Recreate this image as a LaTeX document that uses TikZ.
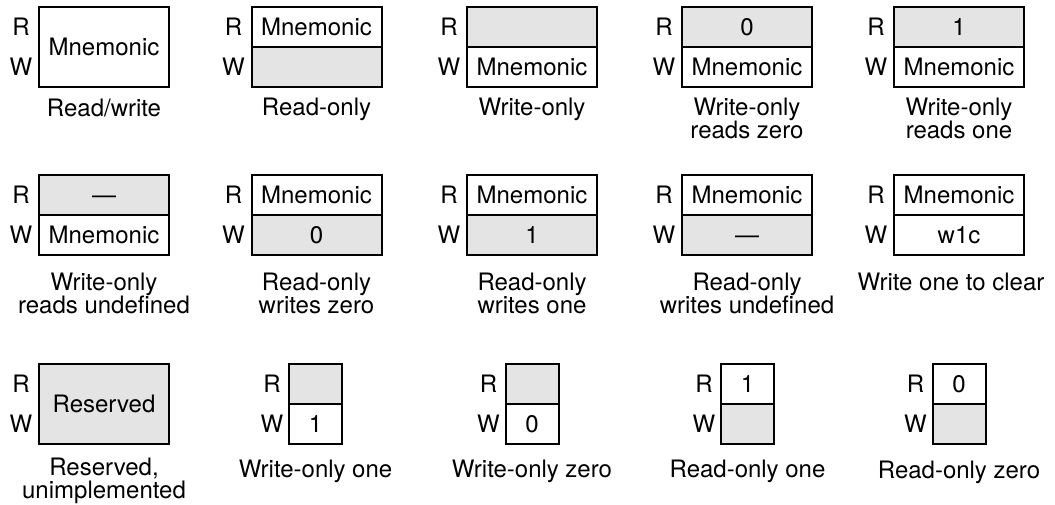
\documentclass[tikz,border=0pt]{standalone}
\usepackage{fontspec}
\setmainfont{TeX Gyre Heros}
\usetikzlibrary{positioning}
\definecolor{shade}{gray}{0.894}

\begin{document}
\begin{tikzpicture}[
            x = 1pt, y = -1pt,
            every node/.style = {inner sep = 0pt, outer sep = 0pt, font = \fontsize{24}{23}\selectfont},
            field/.style = {draw, line width = 2pt, minimum width = 130pt, minimum height = 40pt,
                            text height = 17pt, text depth = 0pt},
            tall/.style = {field, minimum height = 80pt},
            narrow/.style = {field, minimum width = 53pt},
            blank/.style = {fill = shade},
            caption/.style = {align = center}
            ]
            \useasboundingbox (0,0) rectangle (1055,504);

            \node[tall] (rw) at (104,47) {Mnemonic};
            \node (rw-rl) at ([shift={(-18pt,20pt)}]rw.west) {R};
            \node (rw-wl) at ([shift={(-18pt,-20pt)}]rw.west) {W};
            \node[caption, below = 12pt of rw] (rw-cap) {Read/write};

            \node[field] (ro-r) at (316.5,27) {Mnemonic};
            \node[field, blank, below = 0pt of ro-r] (ro-w) {};
            \node (ro-rl) at ([xshift=-18pt]ro-r.west) {R};
            \node (ro-wl) at ([xshift=-18pt]ro-w.west) {W};
            \node[caption, below = 11pt of ro-w] (ro-cap) {Read-only};

            \node[field, blank] (wo-r) at (532,27) {};
            \node[field, below = 0pt of wo-r] (wo-w) {Mnemonic};
            \node (wo-rl) at ([xshift=-18pt]wo-r.west) {R};
            \node (wo-wl) at ([xshift=-18pt]wo-w.west) {W};
            \node[caption, below = 11pt of wo-w] (wo-cap) {Write-only};

            \node[field, blank] (wrz-r) at (747,27) {0};
            \node[field, below = 0pt of wrz-r] (wrz-w) {Mnemonic};
            \node (wrz-rl) at ([xshift=-18pt]wrz-r.west) {R};
            \node (wrz-wl) at ([xshift=-18pt]wrz-w.west) {W};
            \node[caption, below = 11pt of wrz-w] (wrz-cap) {Write-only\\reads zero};

            \node[field, blank] (wro-r) at (959,27) {1};
            \node[field, below = 0pt of wro-r] (wro-w) {Mnemonic};
            \node (wro-rl) at ([xshift=-18pt]wro-r.west) {R};
            \node (wro-wl) at ([xshift=-18pt]wro-w.west) {W};
            \node[caption, below = 11pt of wro-w] (wro-cap) {Write-only\\reads one};

            \node[field, blank] (wru-r) at (104,195) {—};
            \node[field, below = 0pt of wru-r] (wru-w) {Mnemonic};
            \node (wru-rl) at ([xshift=-18pt]wru-r.west) {R};
            \node (wru-wl) at ([xshift=-18pt]wru-w.west) {W};
            \node[caption, below = 18pt of wru-w] (wru-cap) {Write-only\\reads undefined};

            \node[field] (rwz-r) at (316.5,195) {Mnemonic};
            \node[field, blank, below = 0pt of rwz-r] (rwz-w) {0};
            \node (rwz-rl) at ([xshift=-18pt]rwz-r.west) {R};
            \node (rwz-wl) at ([xshift=-18pt]rwz-w.west) {W};
            \node[caption, below = 18pt of rwz-w] (rwz-cap) {Read-only\\writes zero};

            \node[field] (rwo-r) at (532,195) {Mnemonic};
            \node[field, blank, below = 0pt of rwo-r] (rwo-w) {1};
            \node (rwo-rl) at ([xshift=-18pt]rwo-r.west) {R};
            \node (rwo-wl) at ([xshift=-18pt]rwo-w.west) {W};
            \node[caption, below = 18pt of rwo-w] (rwo-cap) {Read-only\\writes one};

            \node[field] (rwu-r) at (747,195) {Mnemonic};
            \node[field, blank, below = 0pt of rwu-r] (rwu-w) {—};
            \node (rwu-rl) at ([xshift=-18pt]rwu-r.west) {R};
            \node (rwu-wl) at ([xshift=-18pt]rwu-w.west) {W};
            \node[caption, below = 18pt of rwu-w] (rwu-cap) {Read-only\\writes undefined};

            \node[field] (woc-r) at (959,195) {Mnemonic};
            \node[field, below = 0pt of woc-r] (woc-w) {w1c};
            \node (woc-rl) at ([xshift=-18pt]woc-r.west) {R};
            \node (woc-wl) at ([xshift=-18pt]woc-w.west) {W};
            \node[caption, below = 18pt of woc-w, xshift = -8pt] (woc-cap) {Write one to clear};

            \node[tall, blank] (rsv) at (104,403.5) {Reserved};
            \node (rsv-rl) at ([shift={(-18pt,20pt)}]rsv.west) {R};
            \node (rsv-wl) at ([shift={(-18pt,-20pt)}]rsv.west) {W};
            \node[caption, below = 14pt of rsv] (rsv-cap) {Reserved,\\unimplemented};

            \node[narrow, blank] (won-r) at (315.5,383.5) {};
            \node[narrow, below = 0pt of won-r] (won-w) {1};
            \node (won-rl) at ([xshift=-17pt]won-r.west) {R};
            \node (won-wl) at ([xshift=-17pt]won-w.west) {W};
            \node[caption, below = 16pt of won-w] (won-cap) {Write-only one};

            \node[narrow, blank] (woz-r) at (532,383.5) {};
            \node[narrow, below = 0pt of woz-r] (woz-w) {0};
            \node (woz-rl) at ([xshift=-17pt]woz-r.west) {R};
            \node (woz-wl) at ([xshift=-17pt]woz-w.west) {W};
            \node[caption, below = 16pt of woz-w] (woz-cap) {Write-only zero};

            \node[narrow] (ron-r) at (747.5,383.5) {1};
            \node[narrow, blank, below = 0pt of ron-r] (ron-w) {};
            \node (ron-rl) at ([xshift=-17pt]ron-r.west) {R};
            \node (ron-wl) at ([xshift=-17pt]ron-w.west) {W};
            \node[caption, below = 16pt of ron-w] (ron-cap) {Read-only one};

            \node[narrow] (roz-r) at (959,383.5) {0};
            \node[narrow, blank, below = 0pt of roz-r] (roz-w) {};
            \node (roz-rl) at ([xshift=-17pt]roz-r.west) {R};
            \node (roz-wl) at ([xshift=-17pt]roz-w.west) {W};
            \node[caption, below = 17pt of roz-w] (roz-cap) {Read-only zero};
\end{tikzpicture}
\end{document}
